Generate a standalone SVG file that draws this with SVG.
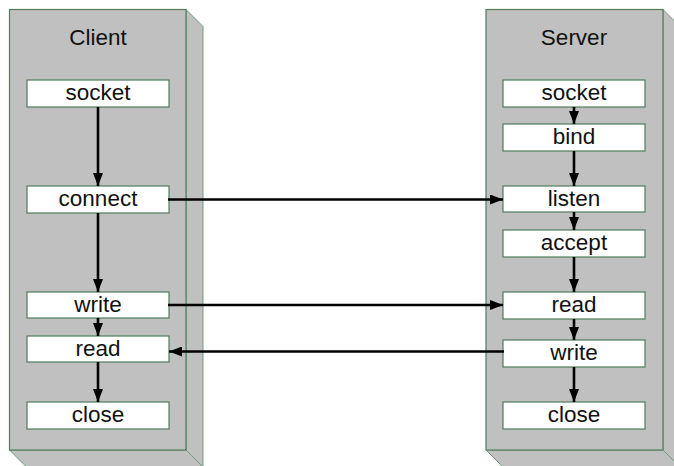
<svg xmlns="http://www.w3.org/2000/svg" width="674" height="466" viewBox="0 0 674 466">
  <style>
    .face { fill: #c0c0c0; stroke: #4f7d5c; stroke-width: 1.2; }
    .side { fill: #c0c0c0; stroke: #6f9a7b; stroke-width: 1; }
    .node rect { fill: #ffffff; stroke: #4f7d5c; stroke-width: 1.2; }
    text { font-family: "Liberation Sans", Arial, sans-serif; font-size: 22.5px; fill: #111111; text-anchor: middle; }
    .link { stroke: #000000; stroke-width: 2.6; fill: none; marker-end: url(#arrow); }
  </style>
  <defs>
    <marker id="arrow" viewBox="0 0 13 10" refX="13" refY="5" markerWidth="13" markerHeight="10" markerUnits="userSpaceOnUse" orient="auto">
      <path d="M0,0 L13,5 L0,10 Z" fill="#000000"/>
    </marker>
  </defs>

  <rect width="674" height="466" fill="#ffffff"/>

  <!-- Client column -->
  <g id="client">
    <polygon class="side" points="186,9.5 203,26.5 203,467 186,450"/>
    <polygon class="side" points="9.5,450 186,450 203,467 26.5,467"/>
    <rect class="face" x="9.5" y="9.5" width="176.5" height="440.5"/>
    <text x="98" y="45">Client</text>
  </g>

  <!-- Server column -->
  <g id="server">
    <polygon class="side" points="663,9.5 680,26.5 680,467 663,450"/>
    <polygon class="side" points="486,450 663,450 680,467 503,467"/>
    <rect class="face" x="486" y="9.5" width="177" height="440.5"/>
    <text x="574" y="45">Server</text>
  </g>

  <!-- Client steps -->
  <g id="c-socket" class="node"><rect x="27" y="80" width="142" height="27"/><text x="98" y="100">socket</text></g>
  <g id="c-connect" class="node"><rect x="27" y="186" width="142" height="27"/><text x="98" y="206">connect</text></g>
  <g id="c-write" class="node"><rect x="27" y="292" width="142" height="26"/><text x="98" y="312">write</text></g>
  <g id="c-read" class="node"><rect x="27" y="336" width="142" height="26"/><text x="98" y="356">read</text></g>
  <g id="c-close" class="node"><rect x="27" y="402" width="142" height="27"/><text x="98" y="422">close</text></g>

  <!-- Server steps -->
  <g id="s-socket" class="node"><rect x="503" y="80" width="142" height="27"/><text x="574" y="100">socket</text></g>
  <g id="s-bind" class="node"><rect x="503" y="124" width="142" height="27"/><text x="574" y="144">bind</text></g>
  <g id="s-listen" class="node"><rect x="503" y="186" width="142" height="26"/><text x="574" y="206">listen</text></g>
  <g id="s-accept" class="node"><rect x="503" y="230" width="142" height="27"/><text x="574" y="250">accept</text></g>
  <g id="s-read" class="node"><rect x="503" y="292" width="142" height="27"/><text x="574" y="312">read</text></g>
  <g id="s-write" class="node"><rect x="503" y="340" width="142" height="27"/><text x="574" y="360">write</text></g>
  <g id="s-close" class="node"><rect x="503" y="402" width="142" height="27"/><text x="574" y="422">close</text></g>

  <!-- Connectors -->
  <g id="connectors">
    <line class="link" x1="98" y1="107" x2="98" y2="186"/>
    <line class="link" x1="98" y1="213" x2="98" y2="292"/>
    <line class="link" x1="98" y1="318" x2="98" y2="336"/>
    <line class="link" x1="98" y1="362" x2="98" y2="402"/>

    <line class="link" x1="574" y1="107" x2="574" y2="124"/>
    <line class="link" x1="574" y1="151" x2="574" y2="186"/>
    <line class="link" x1="574" y1="212" x2="574" y2="230"/>
    <line class="link" x1="574" y1="257" x2="574" y2="292"/>
    <line class="link" x1="574" y1="319" x2="574" y2="340"/>
    <line class="link" x1="574" y1="367" x2="574" y2="402"/>

    <line class="link" x1="168" y1="199.5" x2="503" y2="199.5"/>
    <line class="link" x1="168" y1="305" x2="503" y2="305"/>
    <line class="link" x1="504" y1="351.5" x2="169" y2="351.5"/>
  </g>
</svg>
